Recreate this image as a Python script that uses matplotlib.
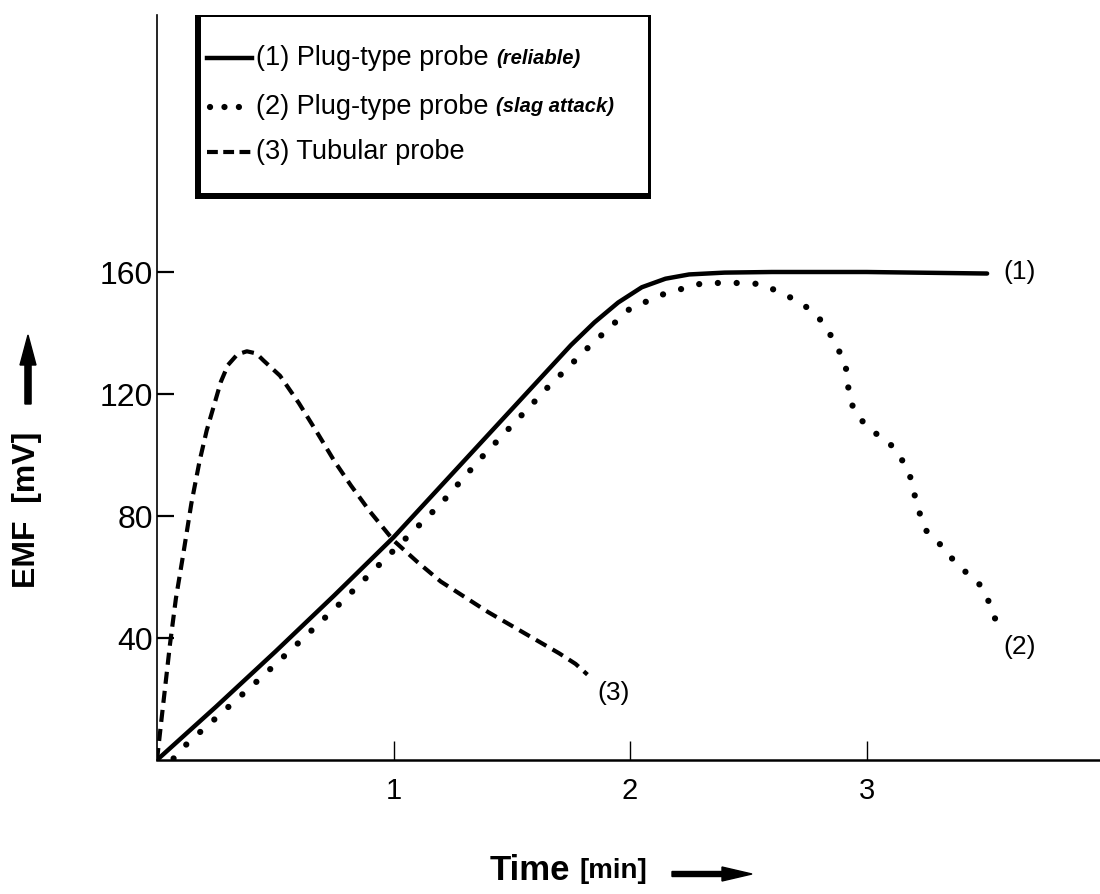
import matplotlib
matplotlib.use("Agg")
import matplotlib.pyplot as plt
from matplotlib.patches import Rectangle, FancyArrow
from matplotlib.lines import Line2D

# ---------------- data ----------------
t_reliable = [0, 0.25, 0.5, 0.75, 1.0, 1.25, 1.5, 1.75, 1.85, 1.95, 2.05, 2.15, 2.25, 2.4,
              2.6, 3.0, 3.51]
emf_reliable = [0, 17.5, 35.5, 54, 73, 94, 115, 136, 143.5, 150, 155, 157.8, 159.2, 159.8,
                160, 160, 159.5]

t_slag = [0.07, 0.13, 0.25, 0.44, 0.62, 0.79, 0.96, 1.2, 1.37, 1.59, 1.65, 1.82, 2.0, 2.15,
          2.31, 2.48, 2.56, 2.63, 2.71, 2.78, 2.83, 2.87, 2.91, 2.92, 2.93, 2.96, 3.02, 3.09,
          3.14, 3.18, 3.20, 3.22, 3.25, 3.31, 3.36, 3.42, 3.48, 3.52, 3.55]
emf_slag = [0.5, 5.6, 13.8, 27, 40, 52.5, 65.6, 84, 99, 117, 122, 135, 148, 153,
            156.4, 156.4, 156, 153.4, 150.5, 146.6, 142, 136, 130.5, 124, 118, 113, 108, 104.6,
            99.7, 94.4, 87.9, 82, 75.4, 70.8, 66.2, 61.6, 57.4, 51.5, 45]

t_tubular = [0, 0.02, 0.055, 0.08, 0.11, 0.145, 0.18, 0.21, 0.24, 0.27, 0.30, 0.34, 0.38,
             0.42, 0.45, 0.52, 0.6, 0.68, 0.75, 0.82, 0.9, 1.0, 1.1, 1.2, 1.3, 1.4, 1.5,
             1.6, 1.7, 1.77, 1.82]
emf_tubular = [0, 14, 38, 53, 67, 84, 98, 108, 116, 124, 129.5, 133, 134,
               133.3, 131, 126, 117, 107, 98, 90, 81.5, 72, 65, 58.5, 53.5, 48.5, 44,
               39.5, 35, 31.5, 28]

x_ticks = [1, 2, 3]
y_ticks = [40, 80, 120, 160]
legend_main = ["(1) Plug-type probe ", "(2) Plug-type probe ", "(3) Tubular probe"]
legend_note = ["(reliable)", "(slag attack)", ""]
curve_tags = ["(1)", "(2)", "(3)"]

# ---------------- fonts ----------------
sans = "Liberation Sans"
plt.rcParams["font.family"] = [sans, "DejaVu Sans"]

W, H = 1100, 894
fig = plt.figure(figsize=(W / 100, H / 100), dpi=100)

def fx(px):
    return px / W

def fy(py):
    return 1 - py / H

x0, y0, x1, y1 = 157, 760, 1100, 15
ax = fig.add_axes([fx(x0), fy(y0), fx(x1) - fx(x0), fy(y1) - fy(y0)])
ax.set_xlim(0, (x1 - x0) / 236.5)
ax.set_ylim(0, (y0 - y1) / 3.05)
ax.patch.set_visible(False)
for s in ["top", "right"]:
    ax.spines[s].set_visible(False)
ax.spines["left"].set_linewidth(1.2)
ax.spines["bottom"].set_linewidth(1.8)

ax.set_xticks(x_ticks)
ax.set_xticklabels([str(v) for v in x_ticks], fontsize=21)
ax.set_yticks(y_ticks)
ax.set_yticklabels([str(v) for v in y_ticks], fontsize=23)
ax.tick_params(axis="x", direction="in", length=14, width=1.0, pad=12)
ax.tick_params(axis="y", direction="in", length=12, width=1.6, pad=3)

# curves
ax.plot(t_reliable, emf_reliable, color="black", lw=3.2, solid_capstyle="round",
        solid_joinstyle="round", zorder=3)
ax.plot(t_slag, emf_slag, color="black", lw=4.5, linestyle=(0, (0.01, 3.0)),
        dash_capstyle="round", zorder=3)
ax.plot(t_tubular, emf_tubular, color="black", lw=3.0, linestyle=(0, (2.9, 1.7)),
        dash_capstyle="butt", zorder=3)

# curve tags
ax.text(3.58, 160, curve_tags[0], fontsize=19, va="center", ha="left")
ax.text(3.58, 37, curve_tags[1], fontsize=19, va="center", ha="left")
ax.text(1.86, 22, curve_tags[2], fontsize=19, va="center", ha="left")

# ---------------- legend box (shadowed, left/bottom) ----------------
bx0, by0, bx1, by1 = 195, 15, 651, 199
fig.patches.append(Rectangle((fx(bx0), fy(by1)), fx(bx1) - fx(bx0), fy(by0) - fy(by1),
                             transform=fig.transFigure, facecolor="black",
                             edgecolor="none", zorder=5))
fig.patches.append(Rectangle((fx(bx0 + 6), fy(by1 - 6)), fx(bx1 - 3) - fx(bx0 + 6),
                             fy(by0 + 2) - fy(by1 - 6),
                             transform=fig.transFigure, facecolor="white",
                             edgecolor="none", zorder=6))

rows_y = [58, 107, 152]
lx0, lx1 = 207, 252
styles = [dict(lw=3.2, linestyle="-"),
          dict(lw=4.5, linestyle=(0, (0.01, 2.3)), dash_capstyle="round"),
          dict(lw=3.0, linestyle=(0, (2.6, 1.3)), dash_capstyle="butt")]
for i, ry in enumerate(rows_y):
    fig.lines.append(Line2D([fx(lx0 + (3 if i == 1 else 0)), fx(lx1)], [fy(ry), fy(ry)],
                            transform=fig.transFigure, color="black", zorder=7, **styles[i]))
    t1 = fig.text(fx(lx1 + 4), fy(ry), legend_main[i], fontsize=19.5,
                  va="center", ha="left", zorder=8)
    if legend_note[i]:
        fig.canvas.draw()
        bb = t1.get_window_extent()
        fig.text(bb.x1 / W, fy(ry), legend_note[i], fontsize=14.5,
                 fontweight="bold", fontstyle="italic", va="center", ha="left", zorder=8)

# ---------------- axis labels with arrows ----------------
fig.text(fx(27), fy(510), "EMF  [mV]", rotation=90, fontsize=23,
         fontweight="bold", va="center", ha="center")
fig.patches.append(FancyArrow(fx(28), fy(404), 0, fy(335) - fy(404), width=fy(0) - fy(5),
                              head_width=16 / W, head_length=fy(0) - fy(30),
                              length_includes_head=True, transform=fig.transFigure,
                              color="black"))

tl = fig.text(fx(490), fy(871), "Time", fontsize=25, fontweight="bold",
              va="center", ha="left")
fig.canvas.draw()
bb = tl.get_window_extent()
fig.text(bb.x1 / W + fx(9), fy(871), "[min]", fontsize=20,
         fontweight="bold", va="center", ha="left")
fig.patches.append(FancyArrow(fx(672), fy(874), fx(752) - fx(672), 0, width=5 / H,
                              head_width=fy(0) - fy(14), head_length=30 / W,
                              length_includes_head=True, transform=fig.transFigure,
                              color="black"))

fig.savefig("out.png", dpi=100)
